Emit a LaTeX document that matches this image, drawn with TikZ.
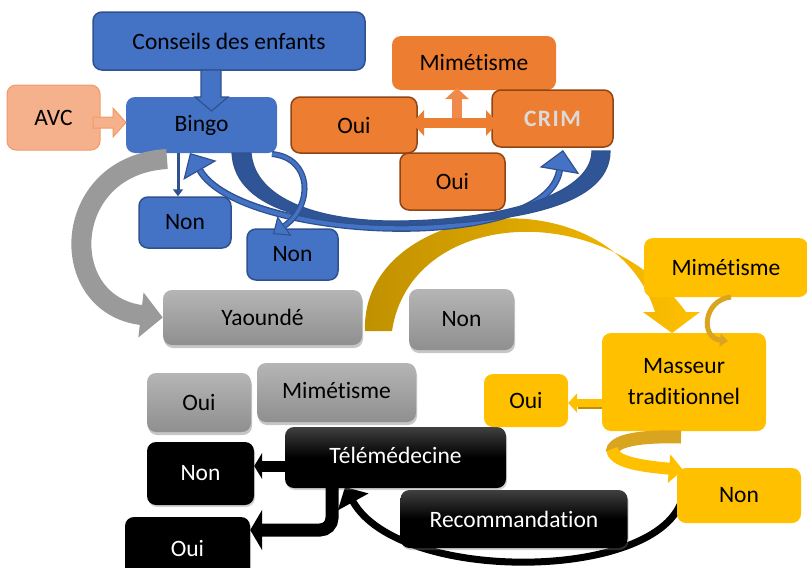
\documentclass[tikz,border=0pt]{standalone}
\usepackage{fontspec}
\setmainfont{Carlito}[Ligatures=CommonOff]
\usetikzlibrary{arrows.meta,shadows,calc}
\definecolor{bblue}{HTML}{4472C4}
\definecolor{bdark}{HTML}{2F528F}
\definecolor{bribbon}{HTML}{2F5597}
\definecolor{orng}{HTML}{ED7D31}
\definecolor{orngB}{HTML}{8F4514}
\definecolor{orngL}{HTML}{F08A4B}
\definecolor{salm}{HTML}{F5B08C}
\definecolor{salmB}{HTML}{F29A66}
\definecolor{gry}{HTML}{9A9A9A}
\definecolor{gryT}{HTML}{B5B5B5}
\definecolor{gryB}{HTML}{8F8F8F}
\definecolor{gold}{HTML}{FFC000}
\definecolor{goldD}{HTML}{BF9000}
\definecolor{goldM}{HTML}{D9A520}
\definecolor{blkT}{HTML}{404040}
\definecolor{crimtxt}{HTML}{DADADA}
\begin{document}
\begin{tikzpicture}[x=1pt,y=-1pt,
  every node/.style={font=\fontsize{23.5}{31}\selectfont, inner sep=0pt, align=center},
  box/.style={rounded corners=9pt},
  bluebox/.style={box, fill=bblue, draw=bdark, line width=1.5pt},
  bluenb/.style={box, fill=bblue},
  orangebox/.style={box, fill=orng, draw=orngB, line width=1.5pt},
  orangenb/.style={box, fill=orng},
  salmonbox/.style={box, fill=salm, draw=salmB, line width=1pt},
  greybox/.style={box, top color=gryT, bottom color=gryB, drop shadow={opacity=0.45, shadow xshift=1pt, shadow yshift=-3pt}},
  blackbox/.style={box, fill=black, text=white, drop shadow={opacity=0.35, shadow xshift=1pt, shadow yshift=-2pt}},
  blackgrad/.style={box, top color=blkT, bottom color=black, middle color=black, text=white, drop shadow={opacity=0.35, shadow xshift=1pt, shadow yshift=-2pt}},
  yellowbox/.style={box, fill=gold},
  blueline/.style={bdark, line width=#1},
]
\useasboundingbox (0,0) rectangle (807,568);
\clip (0,0) rectangle (807,568);

% ---------- gold arc (behind yellow boxes)
\path[left color=goldD, right color=gold, shading angle=90]
  (365,331) .. controls (360,200) and (610,170) .. (655,312) -- (643,312) -- (672,333)
  -- (700,312) -- (686,312) .. controls (600,195) and (410,210) .. (392,331) -- cycle;

% ---------- black curve (behind Recommandation)
\coordinate (blkstart) at (684,488);
\draw[black, line width=7pt, -{Triangle[width=34pt,length=17pt]}]
  (blkstart) .. controls (680,582) and (400,587) .. (345,487);

% ---------- boxes
\node[bluebox, minimum width=272pt, minimum height=58pt] (conseils) at (229,41) {Conseils des enfants};
\node[bluenb, minimum width=151pt, minimum height=56pt] (bingo) at (201.5,125) {Bingo};
\node[salmonbox, minimum width=93pt, minimum height=65pt] (avc) at (53.5,117.5) {AVC};
\node[orangebox, minimum width=126pt, minimum height=56pt] (oui1) at (354,125) {Oui};
\node[orangenb, minimum width=164pt, minimum height=54pt] (mim1) at (474,63) {Mimétisme};
\node[orangebox, minimum width=121pt, minimum height=57pt, text=crimtxt] (crim) at (552.5,118.5) {\bfseries\addfontfeature{LetterSpace=6}CRIM};
\node[orangebox, minimum width=105pt, minimum height=57pt] (oui2) at (452.5,181.5) {Oui};
\node[bluebox, minimum width=92pt, minimum height=51pt] (non1) at (185,222.5) {Non};
\node[bluebox, minimum width=91pt, minimum height=51pt] (non2) at (292.5,254.5) {Non};

\node[greybox, minimum width=199pt, minimum height=55pt] (yaounde) at (262.5,317.5) {Yaoundé};
\node[greybox, minimum width=105pt, minimum height=61pt] (nongrey) at (461.5,319.5) {Non};
\node[greybox, minimum width=104pt, minimum height=59pt] (ouigrey) at (199,402.5) {Oui};
\node[greybox, minimum width=159pt, minimum height=59pt] (mimgrey) at (336.5,392.5) {};
\node at (336.5,390) {Mimétisme};

\node[blackgrad, minimum width=221pt, minimum height=61pt] (tele) at (395.5,457.5) {};
\node[text=white] at (395.5,455) {Télémédecine};
\node[blackbox, minimum width=107pt, minimum height=63pt] (nonblack) at (200.5,473.5) {Non};
\node[blackbox, minimum width=125pt, minimum height=63pt] (ouiblack) at (187.5,548.5) {Oui};
\node[blackgrad, minimum width=227pt, minimum height=58pt] (recomm) at (514,519) {Recommandation};

\node[yellowbox, minimum width=164pt, minimum height=59pt] (mimy) at (726,267.5) {Mimétisme};
\node[yellowbox, minimum width=164pt, minimum height=98pt] (masseur) at (684,382) {Masseur\\traditionnel};
\node[yellowbox, minimum width=84pt, minimum height=53pt] (ouiy) at (526,400.5) {Oui};
\node[yellowbox, minimum width=124pt, minimum height=55pt] (nony) at (739,495.5) {Non};

% ---------- blue / salmon block arrows
\filldraw[fill=bblue, draw=bdark, line width=1.2pt]
  (201,70) -- (221,70) -- (221,97) -- (228,97) -- (211.5,111) -- (195,97) -- (201,97) -- cycle;
\filldraw[fill=salm, draw=salmB, line width=1pt]
  (93,117) -- (113,117) -- (113,108) -- (126,122.5) -- (113,137) -- (113,128) -- (93,128) -- cycle;

% thin arrow Bingo -> Non
\draw[bdark, line width=3pt, -{Triangle[width=10pt,length=7pt]}] (178,153) -- (non1.north -| 178,0);

% double-headed curved arrow Bingo <-> CRIM
\draw[blueline=7pt, {Triangle[width=38pt,length=20pt,line width=1.2pt,fill=bblue]}-{Triangle[width=40pt,length=21pt,line width=1.2pt,fill=bblue]}]
  (190,153) .. controls (240,240) and (545,255) .. (563,150);
\draw[bblue, line width=4.2pt, shorten <=20pt, shorten >=21pt]
  (190,153) .. controls (240,240) and (545,255) .. (563,150);

% wide ribbon Bingo -> CRIM
\filldraw[fill=bribbon, draw=bdark, line width=1.2pt]
  (232,153) .. controls (235,215) and (330,226) .. (400,225) .. controls (500,224) and (610,210) .. (610,151)
  -- (592,151) .. controls (592,195) and (500,220) .. (400,221) .. controls (320,222) and (255,200) .. (251,153) -- cycle;

% curl Bingo -> Non (2)
\draw[blueline=6pt, -{Triangle[width=24pt,length=14pt,line width=1pt,fill=bblue]}]
  (272,154) .. controls (312,158) and (314,205) .. (273,234);
\draw[bblue, line width=3.4pt, shorten >=14pt]
  (272,154) .. controls (312,158) and (314,205) .. (273,234);

% ---------- orange arrows
\draw[orngL, line width=10pt, -{Triangle[width=23pt,length=11pt]}] (457,124) -- (457,88);
\draw[orng, line width=10pt, {Triangle[width=25pt,length=12pt]}-{Triangle[width=25pt,length=12pt]}] (412,123) -- (498,123);

% ---------- grey arc Bingo -> Yaoundé
\draw[gry, line width=20pt, -{Triangle[width=44pt,length=22pt]}]
  (167,159) .. controls (60,165) and (55,305) .. (yaounde.west);

% ---------- yellow arrows
\draw[goldM, line width=5pt, -{Triangle[width=13pt,length=8pt]}]
  (731,297) .. controls (703,300) and (700,338) .. (728,341);
\draw[goldD, line width=8pt] (602,405) -- (578,405);
\draw[gold, line width=8pt, -{Triangle[width=19pt,length=9pt]}] (602,403) -- (ouiy.east |- 0,403);
\draw[goldM, line width=13pt] (681,437) .. controls (640,436) and (612,440) .. (612,453);
\draw[gold, line width=12pt, -{Triangle[width=28pt,length=14pt]}]
  (612,449) .. controls (613,462) and (640,466) .. (683,470);

% ---------- black arrows
\draw[black, line width=11pt, -{Triangle[width=26pt,length=8pt]}] (tele.west |- 0,466) -- (nonblack.east |- 0,466);
\draw[black, line width=13pt, rounded corners=12pt, -{Triangle[width=40pt,length=12pt]}]
  (332,487) |- (ouiblack.east |- 0,530);
\end{tikzpicture}
\end{document}
